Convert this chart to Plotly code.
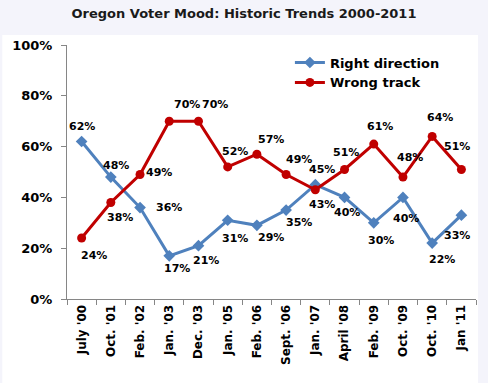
import plotly.graph_objects as go

categories = ["July '00", "Oct. '01", "Feb. '02", "Jan. '03", "Dec. '03", "Jan. '05",
              "Feb. '06", "Sept. '06", "Jan. '07", "April '08", "Feb. '09", "Oct. '09",
              "Oct. '10", "Jan '11"]
right_direction = [62, 48, 36, 17, 21, 31, 29, 35, 45, 40, 30, 40, 22, 33]
wrong_track = [24, 38, 49, 70, 70, 52, 57, 49, 43, 51, 61, 48, 64, 51]
y_ticks = [0, 20, 40, 60, 80, 100]

# label offsets in pixels (dx right, dy down) relative to each point
right_label_dx = [0, 5, 29, 8, 8, 7, 14, 13, 7, 2, 7, 3, 10, -4]
right_label_dy = [-15, -12, 0, 13, 15, 18, 12, 12, -15, 15, 18, 21, 16, 20]
wrong_label_dx = [12, 9, 19, 18, 17, 7, 14, 13, 7, 1, 6, 7, 8, -4]
wrong_label_dy = [17, 15, -2, -17, -17, -15, -15, -15, 15, -17, -18, -20, -19, -23]

BLUE = "#4f81bd"
RED = "#c00000"
FONT = "DejaVu Sans"

fig = go.Figure()
fig.add_trace(go.Scatter(
    x=categories, y=right_direction, name="Right direction", mode="lines+markers",
    line=dict(color=BLUE, width=3), marker=dict(symbol="diamond", size=9, color=BLUE),
))
fig.add_trace(go.Scatter(
    x=categories, y=wrong_track, name="Wrong track", mode="lines+markers",
    line=dict(color=RED, width=3), marker=dict(symbol="circle", size=9, color=RED),
))

for vals, dxs, dys in ((right_direction, right_label_dx, right_label_dy),
                       (wrong_track, wrong_label_dx, wrong_label_dy)):
    for cat, v, dx, dy in zip(categories, vals, dxs, dys):
        fig.add_annotation(x=cat, y=v, text=f"<b>{v}%</b>", showarrow=False,
                           xshift=dx, yshift=-dy, xanchor="center", yanchor="middle",
                           font=dict(family=FONT, size=11, color="#000000"))

fig.update_layout(
    width=488, height=383,
    margin=dict(l=65, r=12, t=45, b=84),
    paper_bgcolor="#f4f4fb",
    plot_bgcolor="rgba(0,0,0,0)",
    title=dict(text="<b>Oregon Voter Mood: Historic Trends 2000-2011</b>",
               x=0.5, xanchor="center", y=1 - 13/383, yref="container", yanchor="middle",
               font=dict(family=FONT, size=13, color="#1a1a1a")),
    font=dict(family=FONT, color="#000000"),
    showlegend=True,
    legend=dict(x=0.545, y=0.99, xanchor="left", yanchor="top",
                bgcolor="rgba(0,0,0,0)", tracegroupgap=0,
                font=dict(family=FONT, size=13, color="#000000", weight="bold")),
    shapes=[dict(type="rect", xref="paper", yref="paper", layer="below",
                 x0=-65/411, x1=(478-65)/411, y0=-84/254, y1=(383-35-84)/254,
                 fillcolor="#ffffff", line=dict(width=0))],
)

fig.update_xaxes(
    type="category", showgrid=False, showline=True, linecolor="#868686", linewidth=1,
    ticks="outside", ticklen=5, tickcolor="#868686", tickson="boundaries",
    tickangle=-90, tickfont=dict(family=FONT, size=12, color="#000000", weight="bold"),
    range=[-0.5, len(categories) - 0.5],
)
fig.update_yaxes(
    range=[0, 100], tickvals=y_ticks, ticktext=[f"{v}%" for v in y_ticks],
    showgrid=False, showline=True, linecolor="#868686", linewidth=1, zeroline=False,
    ticks="outside", ticklen=5, tickcolor="#868686", ticklabelstandoff=6,
    tickfont=dict(family=FONT, size=13, color="#000000", weight="bold"),
)

fig.write_html("out.html", config={"displayModeBar": False},
               post_script="document.body.style.margin='0px';document.body.style.overflow='hidden';")
